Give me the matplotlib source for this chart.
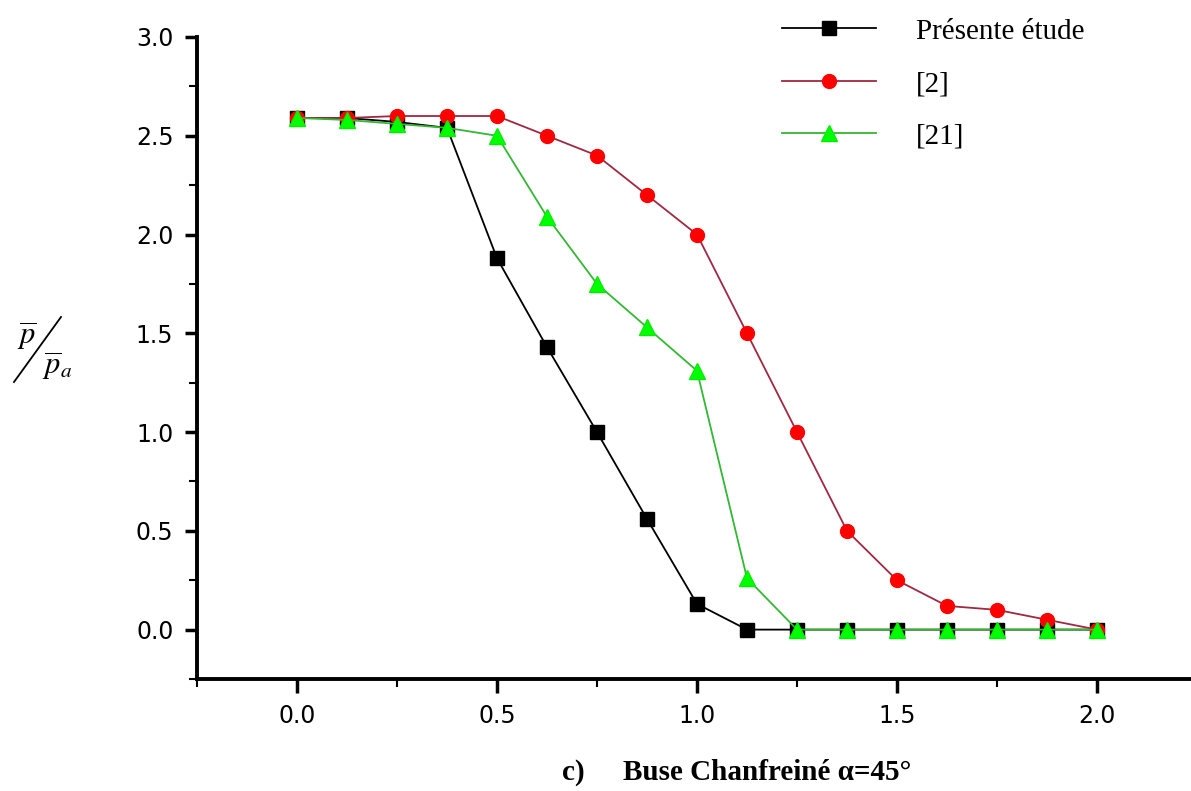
import numpy as np
import matplotlib.pyplot as plt
from matplotlib.ticker import MultipleLocator
from matplotlib.lines import Line2D

plt.rcParams['mathtext.fontset'] = 'stix'

# x positions of the nodes
x = [0.0, 0.125, 0.25, 0.375, 0.5, 0.625, 0.75, 0.875, 1.0,
     1.125, 1.25, 1.375, 1.5, 1.625, 1.75, 1.875, 2.0]

# Présente étude
y_present = [2.59, 2.59, 2.57, 2.54, 1.88, 1.43, 1.0, 0.56, 0.13,
             0.0, 0.0, 0.0, 0.0, 0.0, 0.0, 0.0, 0.0]
# [2]
y_ref2 = [2.59, 2.59, 2.60, 2.60, 2.60, 2.50, 2.40, 2.20, 2.0,
          1.50, 1.0, 0.50, 0.25, 0.12, 0.10, 0.05, 0.0]
# [21]
y_ref21 = [2.59, 2.58, 2.56, 2.54, 2.50, 2.09, 1.75, 1.53, 1.31,
           0.26, 0.0, 0.0, 0.0, 0.0, 0.0, 0.0, 0.0]

labels = ['Présente étude', '[2]', '[21]']

W, H = 1191, 791
fig = plt.figure(figsize=(W / 100, H / 100), dpi=100)
ax = fig.add_axes([197/W, 1 - 679/H, 1 - 197/W, (679 - 37)/H])

ax.plot(x, y_present, color='black', lw=1.3, marker='s', ms=10,
        mfc='black', mec='black', label=labels[0], zorder=3)
ax.plot(x, y_ref2, color='#a02840', lw=1.3, marker='o', ms=10,
        mfc='#ff0000', mec='#ff0000', label=labels[1], zorder=4)
ax.plot(x, y_ref21, color='#33b833', lw=1.3, marker='^', ms=11,
        mfc='#00ff00', mec='#00ee00', label=labels[2], zorder=5)

ax.set_xlim(-0.25, 2.235)
ax.set_ylim(-0.25, 3.0)
ax.xaxis.set_major_locator(MultipleLocator(0.5))
ax.xaxis.set_minor_locator(MultipleLocator(0.25))
ax.yaxis.set_major_locator(MultipleLocator(0.5))
ax.yaxis.set_minor_locator(MultipleLocator(0.25))
ax.xaxis.set_major_formatter(lambda v, p: f'{v:.1f}')
ax.yaxis.set_major_formatter(lambda v, p: f'{v:.1f}')

for s in ['top', 'right']:
    ax.spines[s].set_visible(False)
for s in ['left', 'bottom']:
    ax.spines[s].set_linewidth(2.8)

ax.tick_params(axis='x', which='major', direction='out', length=10, width=2.5,
               pad=8, labelsize=17)
ax.tick_params(axis='x', which='minor', direction='out', length=6, width=1.5)
ax.tick_params(axis='y', which='major', direction='out', length=9, width=2.5,
               pad=8, labelsize=17)
ax.tick_params(axis='y', which='minor', direction='out', length=6, width=1.5)

leg = ax.legend(loc='upper left', bbox_to_anchor=(756/W, 1 + 8/H),
                bbox_transform=fig.transFigure, frameon=False, numpoints=1,
                handlelength=3.2, handletextpad=1.37, labelspacing=0.89,
                prop={'family': 'Liberation Serif', 'size': 21})

# slanted fraction y label
fig.text(27/W, 1 - 336/H, r'$\overline{p}$', fontsize=22, ha='center', va='center')
fig.add_artist(Line2D([14/W, 61/W], [1 - 382/H, 1 - 317/H], color='black', lw=1.3,
                      transform=fig.transFigure))
fig.text(57/W, 1 - 366/H, r'$\overline{p}_a$', fontsize=22, ha='center', va='center')

fig.text(585/W, 1 - 772/H, 'c)', fontsize=21, fontweight='bold',
         family='Liberation Serif', ha='right', va='center')
fig.text(623/W, 1 - 772/H, 'Buse Chanfreiné α=45°', fontsize=21,
         fontweight='bold', family='Liberation Serif', ha='left', va='center')

fig.savefig('out.png', dpi=100)
